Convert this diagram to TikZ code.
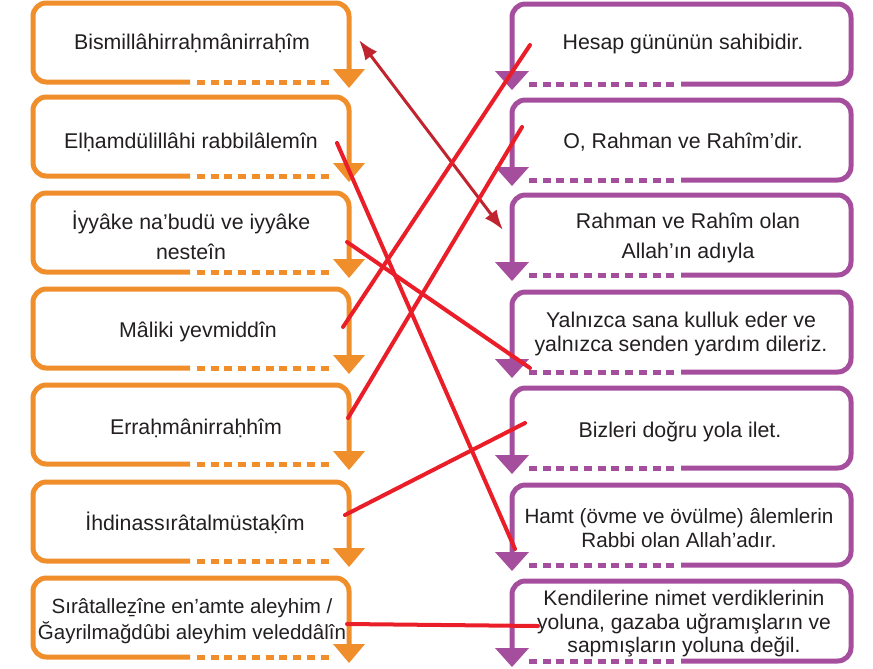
\documentclass[tikz,border=0pt]{standalone}
\usepackage{fontspec}
\setmainfont{Liberation Sans}
\usetikzlibrary{arrows.meta}
\definecolor{turuncu}{RGB}{239,142,43}
\definecolor{mor}{RGB}{165,78,157}
\definecolor{koyukirmizi}{RGB}{192,36,47}
\definecolor{kirmizi}{RGB}{234,30,40}
\definecolor{yazirengi}{RGB}{35,31,32}

\begin{document}
\begin{tikzpicture}[x=0.75pt,y=-0.75pt,line join=round,
  yazi/.style={text=yazirengi,align=center,font=\fontsize{16}{22.5}\selectfont},
  sikyazi/.style={text=yazirengi,align=center,font=\fontsize{15.5}{18.5}\selectfont},
  cizgi/.style={kirmizi,line width=3pt,line cap=round}]
\useasboundingbox (0,0) rectangle (873,668);
\foreach \t in {3,97,193,289,385,482,578}{
  \draw[turuncu,line width=3.75pt,rounded corners=10] (190,\t+79)--(33,\t+79)--(33,\t)--(349,\t)--(349,\t+67);
  \draw[turuncu,line width=3.75pt,dash pattern=on 6pt off 4.3pt] (197,\t+79)--(333,\t+79);
  \fill[turuncu] (333,\t+66)--(365,\t+66)--(349,\t+85)--cycle;
}
\foreach \t in {4,100,195,292,388,485,581}{
  \draw[mor,line width=3.75pt,rounded corners=10] (681,\t+80)--(851,\t+80)--(851,\t)--(512,\t)--(512,\t+68);
  \draw[mor,line width=3.75pt,dash pattern=on 6pt off 4.3pt] (529,\t+80)--(675,\t+80);
  \fill[mor] (495,\t+67)--(529,\t+67)--(512,\t+86)--cycle;
}
\node[yazi] (bism) at (192,43) {Bismillâhirraḥmânirraḥîm};
\node[yazi] (elham) at (191,142) {Elḥamdülillâhi rabbilâlemîn};
\node[yazi] (iyyake) at (191,235) {İyyâke na’budü ve iyyâke\\nesteîn};
\node[yazi] (maliki) at (198,332) {Mâliki yevmiddîn};
\node[yazi] (errahman) at (196,428) {Erraḥmânirraḥhîm};
\node[yazi] (ihdina) at (195,523) {İhdinassırâtalmüstaḳîm};
\node[yazi,font=\fontsize{15.4}{19.5}\selectfont] (siratal) at (192,621) {Sırâtalleẕîne en’amte aleyhim /\\Ğayrilmağdûbi aleyhim veleddâlîn};
\node[yazi] (hesap) at (683,44) {Hesap gününün sahibidir.};
\node[yazi] (orahman) at (683,142) {O, Rahman ve Rahîm’dir.};
\node[yazi] (rahman) at (688,238) {Rahman ve Rahîm olan\\Allah’ın adıyla};
\node[yazi,font=\fontsize{16}{18}\selectfont] (yalniz) at (681,334) {Yalnızca sana kulluk eder ve\\yalnızca senden yardım dileriz.};
\node[yazi] (bizleri) at (680,432) {Bizleri doğru yola ilet.};
\node[sikyazi] (hamt) at (679,528) {Hamt (övme ve övülme) âlemlerin\\Rabbi olan Allah’adır.};
\node[sikyazi,font=\fontsize{15.8}{17.6}\selectfont] (kendi) at (684,624) {Kendilerine nimet verdiklerinin\\yoluna, gazaba uğramışların ve\\sapmışların yoluna değil.};
\coordinate (bism-u) at (359,40);
\coordinate (rahman-u) at (503,230);
\coordinate (elham-u) at (337,143);
\coordinate (hamt-u) at (515,549);
\coordinate (iyyake-u) at (347,242);
\coordinate (yalniz-u) at (530,368);
\coordinate (maliki-u) at (343,327);
\coordinate (hesap-u) at (530,45);
\coordinate (errahman-u) at (348,418);
\coordinate (orahman-u) at (522,127);
\coordinate (ihdina-u) at (345,515);
\coordinate (bizleri-u) at (525,423);
\coordinate (siratal-u) at (347,624);
\coordinate (kendi-u) at (538,626);
\draw[koyukirmizi,line width=2.25pt,{Latex[length=15pt,width=11pt]}-{Latex[length=15pt,width=11pt]}] (bism-u)--(rahman-u);
\draw[cizgi] (elham-u)--(hamt-u);
\draw[cizgi] (iyyake-u)--(yalniz-u);
\draw[cizgi] (maliki-u)--(hesap-u);
\draw[cizgi] (errahman-u)--(orahman-u);
\draw[cizgi] (ihdina-u)--(bizleri-u);
\draw[cizgi] (siratal-u)--(kendi-u);
\end{tikzpicture}
\end{document}
